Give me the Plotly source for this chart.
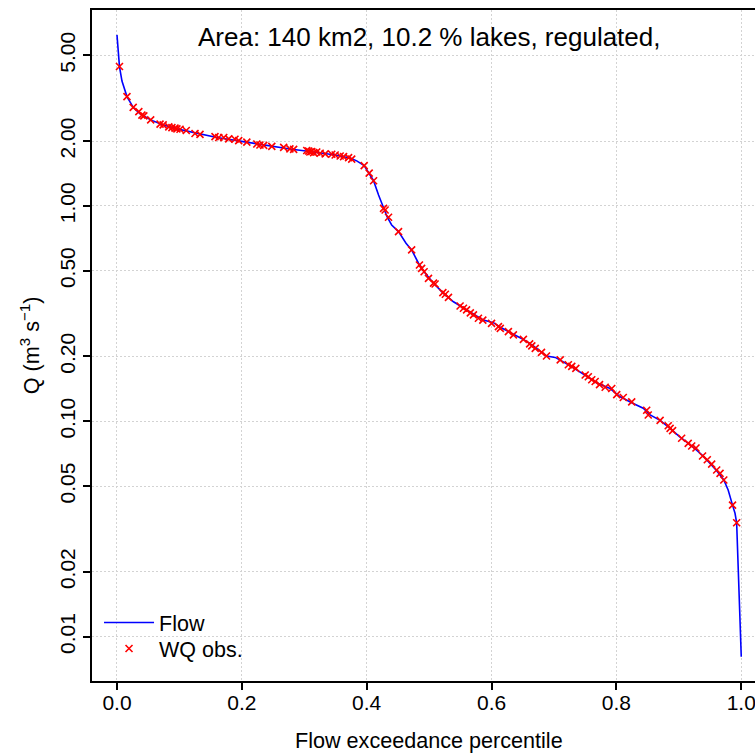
import plotly.graph_objects as go

# Flow duration curve (exceedance fraction, Q in m3/s)
flow_x = [0.0, 0.002, 0.004, 0.008, 0.012, 0.016, 0.026, 0.037, 0.054, 0.072, 0.096,
          0.131, 0.160, 0.197, 0.229, 0.277, 0.309, 0.347, 0.3735, 0.384, 0.396, 0.404,
          0.411, 0.419, 0.427, 0.433, 0.440, 0.451, 0.463, 0.472, 0.483, 0.492, 0.507,
          0.523, 0.539, 0.560, 0.587, 0.603, 0.6125, 0.624, 0.651, 0.667, 0.688, 0.702,
          0.726, 0.752, 0.768, 0.790, 0.806, 0.827, 0.843, 0.854, 0.870, 0.886, 0.901,
          0.9206, 0.939, 0.950, 0.9606, 0.972, 0.979, 0.986, 0.990, 0.9926, 0.9936,
          0.9952, 0.9978, 0.9995, 1.0]
flow_q = [6.23, 5.2, 4.44, 3.8, 3.45, 3.22, 2.87, 2.68, 2.51, 2.39, 2.28,
          2.16, 2.08, 2.00, 1.93, 1.84, 1.79, 1.73, 1.67, 1.62, 1.54, 1.42,
          1.31, 1.125, 0.975, 0.887, 0.816, 0.760, 0.671, 0.625, 0.542, 0.495, 0.438,
          0.393, 0.359, 0.329, 0.295, 0.287, 0.275, 0.264, 0.240, 0.224, 0.201, 0.198,
          0.181, 0.162, 0.151, 0.142, 0.130, 0.121, 0.115, 0.107, 0.101, 0.0927, 0.0849,
          0.0768, 0.0690, 0.0638, 0.0590, 0.0534, 0.0480, 0.0408, 0.0374, 0.0338, 0.0281,
          0.0204, 0.0148, 0.0105, 0.00807]

# Water quality observation days
obs_x = [0.004, 0.016, 0.026, 0.035, 0.040, 0.043, 0.054, 0.069, 0.074, 0.083, 0.088,
         0.093, 0.096, 0.101, 0.111, 0.125, 0.133, 0.157, 0.163, 0.171, 0.179, 0.189,
         0.195, 0.208, 0.224, 0.229, 0.235, 0.248, 0.267, 0.277, 0.283, 0.304, 0.307,
         0.309, 0.312, 0.315, 0.320, 0.3255, 0.3335, 0.344, 0.3495, 0.3575, 0.363, 0.371,
         0.376, 0.396, 0.404, 0.411, 0.427, 0.4295, 0.435, 0.451, 0.472, 0.4845, 0.488,
         0.492, 0.499, 0.507, 0.5096, 0.522, 0.526, 0.531, 0.5496, 0.555, 0.560, 0.566,
         0.571, 0.579, 0.586, 0.600, 0.611, 0.614, 0.627, 0.635, 0.651, 0.661, 0.6645,
         0.670, 0.680, 0.688, 0.710, 0.723, 0.7285, 0.735, 0.750, 0.755, 0.7605, 0.766,
         0.773, 0.782, 0.7925, 0.8005, 0.811, 0.8245, 0.8485, 0.851, 0.870, 0.883, 0.886,
         0.890, 0.9045, 0.915, 0.9206, 0.9275, 0.938, 0.9456, 0.9526, 0.9606, 0.966,
         0.972, 0.986, 0.9926]
obs_q = [4.44, 3.22, 2.87, 2.74, 2.64, 2.62, 2.51, 2.40, 2.38, 2.33, 2.31,
         2.30, 2.28, 2.27, 2.24, 2.17, 2.15, 2.10, 2.08, 2.08, 2.05, 2.04,
         2.01, 1.98, 1.94, 1.92, 1.91, 1.89, 1.87, 1.84, 1.83, 1.81, 1.80,
         1.78, 1.79, 1.77, 1.78, 1.757, 1.744, 1.738, 1.725, 1.706, 1.694, 1.676,
         1.65, 1.54, 1.42, 1.31, 0.975, 0.958, 0.886, 0.760, 0.625, 0.532, 0.513,
         0.495, 0.461, 0.438, 0.434, 0.396, 0.389, 0.376, 0.343, 0.335, 0.329, 0.319,
         0.312, 0.301, 0.295, 0.285, 0.275, 0.270, 0.261, 0.252, 0.240, 0.229, 0.224,
         0.218, 0.209, 0.201, 0.193, 0.183, 0.180, 0.176, 0.164, 0.161, 0.156, 0.153,
         0.148, 0.144, 0.142, 0.133, 0.129, 0.123, 0.1125, 0.107, 0.101, 0.0953, 0.0927,
         0.0905, 0.0834, 0.0790, 0.0768, 0.0752, 0.0690, 0.0663, 0.0633, 0.0594, 0.0573,
         0.0534, 0.0408, 0.0338]

x_ticks = [0.0, 0.2, 0.4, 0.6, 0.8, 1.0]
x_ticklabels = ["0.0", "0.2", "0.4", "0.6", "0.8", "1.0"]
y_ticks = [0.01, 0.02, 0.05, 0.1, 0.2, 0.5, 1.0, 2.0, 5.0]
y_ticklabels = ["0.01", "0.02", "0.05", "0.10", "0.20", "0.50", "1.00", "2.00", "5.00"]

title_text = "Area: 140 km2, 10.2 % lakes, regulated,"
FONT = "Liberation Sans, Arial, sans-serif"

fig = go.Figure()
fig.add_trace(go.Scatter(x=flow_x, y=flow_q, mode="lines", name="Flow",
                         line=dict(color="#0000ff", width=1.6), legend="legend"))
fig.add_trace(go.Scatter(x=obs_x, y=obs_q, mode="markers", name="WQ obs.",
                         marker=dict(symbol="x-thin-open", size=7, color="#ff0000",
                                     line=dict(color="#ff0000", width=1.6)),
                         legend="legend2"))

leg_common = dict(xanchor="left", yanchor="top", bgcolor="rgba(0,0,0,0)",
                  borderwidth=0, font=dict(size=21.5), itemwidth=50)

fig.update_layout(
    width=755, height=754,
    margin=dict(l=92, r=0, t=10, b=73),
    paper_bgcolor="white", plot_bgcolor="white",
    font=dict(family=FONT, size=21, color="black"),
    showlegend=True,
    legend=dict(x=0.0106, y=(681 - 602) / 671, **leg_common),
    legend2=dict(x=0.0106, y=(681 - 628) / 671, **leg_common),
    xaxis=dict(range=[-0.04, 1.022], tickvals=x_ticks, ticktext=x_ticklabels,
               showline=True, linecolor="black", linewidth=1.5, mirror=True,
               ticks="outside", ticklen=7, tickwidth=1.5, tickcolor="black",
               showgrid=True, gridcolor="#d3d3d3", gridwidth=1, griddash="2px,2px",
               zeroline=False, tickfont=dict(size=21), ticklabelstandoff=-5,
               ticklabeloverflow="allow"),
    yaxis=dict(type="log", range=[-2.206, 0.910], tickvals=y_ticks, ticktext=y_ticklabels,
               tickangle=-90,
               showline=True, linecolor="black", linewidth=1.5, mirror=False,
               ticks="outside", ticklen=7, tickwidth=1.5, tickcolor="black",
               showgrid=True, gridcolor="#d3d3d3", gridwidth=1, griddash="2px,2px",
               zeroline=False, tickfont=dict(size=21)),
    shapes=[
        # white legend background that hides the grid behind the legend
        dict(type="rect", xref="paper", yref="paper", x0=0.0, x1=(260 - 92) / 663,
             y0=0.0, y1=(681 - 596) / 671, fillcolor="white", line=dict(width=0),
             layer="between"),
    ],
    annotations=[
        dict(text=title_text, x=0.5, xref="x", y=(681 - 37) / 671, yref="paper",
             yanchor="middle", xanchor="center", showarrow=False, font=dict(size=26)),
        dict(text="Flow exceedance percentile", x=0.5, xref="x", y=-(740 - 681) / 671,
             yref="paper", xanchor="center", yanchor="middle", showarrow=False,
             font=dict(size=21.6)),
        dict(text="Q (m<sup>3</sup> s<sup>\u22121</sup>)", x=-0.094, xref="paper",
             y=0.5, yref="paper", xanchor="center", yanchor="middle", textangle=-90,
             showarrow=False, font=dict(size=21.6)),
    ],
)

fig.write_html("out.html")
